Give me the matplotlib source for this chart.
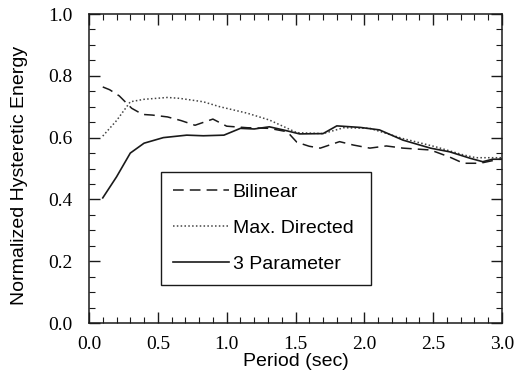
import numpy as np
import matplotlib
matplotlib.use("Agg")
import matplotlib.pyplot as plt
from matplotlib.ticker import MultipleLocator

# Period (sec) and normalized hysteretic energy
period_bl = [0.10, 0.15, 0.22, 0.31, 0.39, 0.46, 0.57, 0.67, 0.77, 0.90, 1.00,
             1.15, 1.31, 1.44, 1.51, 1.60, 1.68, 1.82, 1.92, 2.04, 2.16, 2.28,
             2.48, 2.62, 2.72, 2.84, 2.98, 3.00]
bilinear = [0.764, 0.755, 0.735, 0.695, 0.675, 0.673, 0.667, 0.655, 0.640, 0.660, 0.637,
            0.632, 0.630, 0.619, 0.585, 0.572, 0.566, 0.587, 0.576, 0.566, 0.573, 0.566,
            0.560, 0.537, 0.517, 0.517, 0.530, 0.530]

period_md = [0.10, 0.20, 0.30, 0.40, 0.57, 0.66, 0.83, 0.95, 1.15, 1.31, 1.51,
             1.70, 1.85, 2.04, 2.28, 2.52, 2.72, 2.81, 2.98, 3.00]
max_directed = [0.605, 0.655, 0.716, 0.724, 0.730, 0.727, 0.716, 0.700, 0.679, 0.657, 0.616,
                0.613, 0.632, 0.630, 0.597, 0.570, 0.544, 0.535, 0.535, 0.535]

period_3p = [0.10, 0.20, 0.30, 0.40, 0.54, 0.71, 0.83, 0.98, 1.10, 1.20, 1.31,
             1.41, 1.53, 1.70, 1.80, 1.97, 2.11, 2.28, 2.48, 2.62, 2.77, 2.86,
             2.93, 3.00]
three_param = [0.405, 0.473, 0.550, 0.582, 0.600, 0.608, 0.606, 0.608, 0.630, 0.628, 0.635,
               0.625, 0.612, 0.613, 0.638, 0.633, 0.625, 0.592, 0.566, 0.554, 0.533, 0.522,
               0.530, 0.530]

x_ticks = [0.0, 0.5, 1.0, 1.5, 2.0, 2.5, 3.0]
y_ticks = [0.0, 0.2, 0.4, 0.6, 0.8, 1.0]

fig = plt.figure(figsize=(5.15, 3.77), dpi=100)
ax = fig.add_axes([0.1728, 0.1432, 0.802, 0.8196])

ink = "#1a1a1a"
ax.plot(period_bl, bilinear, color=ink, lw=1.1, dashes=(7, 4), label="Bilinear")
ax.plot(period_md, max_directed, color="#444444", lw=1.1, dashes=(1, 1.5), label="Max. Directed")
ax.plot(period_3p, three_param, color=ink, lw=1.2, label="3 Parameter")

ax.set_xticks(x_ticks)
ax.set_xticklabels([f"{t:.1f}" for t in x_ticks], family="Liberation Serif", fontsize=14)
ax.set_yticks(y_ticks)
ax.set_yticklabels([f"{t:.1f}" for t in y_ticks], family="Liberation Serif", fontsize=14)
ax.xaxis.set_minor_locator(MultipleLocator(0.1))
ax.yaxis.set_minor_locator(MultipleLocator(0.05))
ax.set_xlim(0, 3.0)
ax.set_ylim(0, 1.0)
ax.tick_params(which="both", direction="in", top=True, right=True, color=ink)
ax.tick_params(which="major", length=8, width=1)
ax.tick_params(which="minor", length=4, width=0.8)
ax.tick_params(axis="y", which="major", pad=12)
ax.tick_params(axis="x", which="major", pad=9)
for s in ax.spines.values():
    s.set_linewidth(1.1)
    s.set_color(ink)

ax.set_xlabel("Period (sec)", family="Liberation Sans", fontsize=14, labelpad=0)
ax.set_ylabel("Normalized Hysteretic Energy", family="Liberation Sans", fontsize=14)
ax.yaxis.set_label_coords(-0.148, 0.476)

leg = ax.legend(loc="upper left", bbox_to_anchor=(0.174, 0.123, 0.509, 0.367), mode="expand",
                prop={"family": "Liberation Sans", "size": 14}, handlelength=2.9,
                handletextpad=0.2, labelspacing=0.95, borderpad=0.6, fancybox=False,
                framealpha=1, edgecolor=ink, borderaxespad=0)
leg.get_frame().set_linewidth(1.0)

fig.savefig("out.png", dpi=100)
